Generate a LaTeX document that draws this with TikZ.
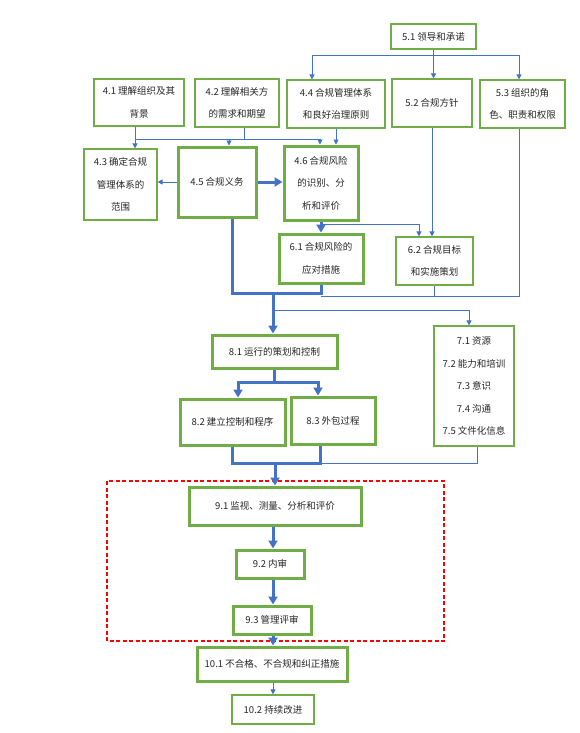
\documentclass[tikz,border=0pt]{standalone}
\usepackage{fontspec}
\newfontfamily\cjk{Noto Sans CJK SC}
\usetikzlibrary{arrows.meta}
\definecolor{gr}{HTML}{70AD47}
\definecolor{bl}{HTML}{4472C4}
\definecolor{dashred}{RGB}{255,0,0}
\definecolor{tx}{HTML}{262626}
\begin{document}
\begin{tikzpicture}[x=1pt,y=-1pt,
  thinbox/.style={draw=gr, line width=1.2pt, fill=white, inner sep=0pt, align=center,
    font=\cjk\fontsize{9.5}{22.5}\selectfont, text=tx},
  thickbox/.style={thinbox, line width=3pt},
  tl/.style={draw=bl, line width=0.9pt},
  tk/.style={draw=bl, line width=3pt},
  tla/.style={tl, -{Triangle[length=5pt,width=5pt]}},
  tka/.style={tk, -{Triangle[length=8pt,width=9pt]}},
  dbl/.style={tk, {Triangle[length=8pt,width=9pt]}-{Triangle[length=8pt,width=9pt]}},
  grp/.style={color=dashred, line width=1.2pt, dash pattern=on 4pt off 2.5pt}
]
\fill[white] (0,0) rectangle (579,733);
\useasboundingbox (0,0) rectangle (579,733);

\draw[grp] (107,481) rectangle (444,641);

% boxes
\node[thinbox, minimum width=85pt, minimum height=25pt] (n51) at (433.5,36.5) {5.1 领导和承诺};
\node[thinbox, minimum width=90pt, minimum height=47pt] (n41) at (139,102.5) {4.1 理解组织及其\\背景};
\node[thinbox, minimum width=84pt, minimum height=48pt] (n42) at (237,103) {4.2 理解相关方\\的需求和期望};
\node[thinbox, minimum width=98pt, minimum height=48pt] (n44) at (336,104) {4.4 合规管理体系\\和良好治理原则};
\node[thinbox, minimum width=80pt, minimum height=48pt] (n52) at (432,103) {5.2 合规方针};
\node[thinbox, minimum width=85pt, minimum height=48pt] (n53) at (522.5,104) {5.3 组织的角\\色、职责和权限};
\node[thinbox, minimum width=73pt, minimum height=71pt] (n43) at (120.5,184.5) {4.3 确定合规\\管理体系的\\范围};
\node[thickbox, minimum width=78pt, minimum height=70pt] (n45) at (217,182) {4.5 合规义务};
\node[thickbox, minimum width=74pt, minimum height=74pt] (n46) at (321,183) {4.6 合规风险\\的识别、分\\析和评价};
\node[thickbox, minimum width=84pt, minimum height=49pt] (n61) at (321,258.5) {6.1 合规风险的\\应对措施};
\node[thinbox, minimum width=77pt, minimum height=48pt] (n62) at (434.5,261) {6.2 合规目标\\和实施策划};
\node[thickbox, minimum width=125pt, minimum height=33pt] (n81) at (274.5,351.5) {8.1 运行的策划和控制};
\node[thinbox, minimum width=80pt, minimum height=120pt] (n71) at (474,386) {7.1 资源\\7.2 能力和培训\\7.3 意识\\7.4 沟通\\7.5 文件化信息};
\node[thickbox, minimum width=105pt, minimum height=46pt] (n82) at (232.5,422) {8.2 建立控制和程序};
\node[thickbox, minimum width=84pt, minimum height=47pt] (n83) at (333,420.5) {8.3 外包过程};
\node[thickbox, minimum width=172pt, minimum height=38pt] (n91) at (275,506) {9.1 监视、测量、分析和评价};
\node[thickbox, minimum width=68pt, minimum height=28pt] (n92) at (270,564) {9.2 内审};
\node[thickbox, minimum width=78pt, minimum height=28pt] (n93) at (272,620) {9.3 管理评审};
\node[thickbox, minimum width=150pt, minimum height=34pt] (n101) at (272,664) {10.1 不合格、不合规和纠正措施};
\node[thinbox, minimum width=82pt, minimum height=29pt] (n102) at (273,709.5) {10.2 持续改进};

% 5.1 distribution
\coordinate (a1) at (312,55);
\coordinate (a2) at (519,55);
\draw[tl] (a1) -- (a2);
\draw[tla] (n51.south) -- (n51.south |- n52.north);
\draw[tla] (a1) -- (a1 |- n44.north);
\draw[tla] (a2) -- (a2 |- n53.north);

% 4.1 / 4.2 distribution
\coordinate (b1) at (135,139);
\coordinate (b2) at (320,139);
\coordinate (b3) at (229,139);
\coordinate (b4) at (244,139);
\draw[tl] (b1 |- n41.south) -- (b1) -- (b2);
\draw[tl] (b4 |- n42.south) -- (b4);
\draw[tla] (b1) -- (b1 |- n43.north);
\draw[tla] (b3) -- (b3 |- n45.north);
\draw[tla] (b2) -- (b2 |- n46.north);
\draw[tla] (n44.south) -- (n44.south |- n46.north);

\draw[tla] (n45.west) -- (n45.west -| n43.east);
\draw[tka] (n45.east) -- (n45.east -| n46.west);
\draw[tka] (n46.south) -- (n46.south |- n61.north);
\coordinate (c0) at (321,224);
\coordinate (c1) at (419,224);
\draw[tla] (c0) -- (c1) -- (c1 |- n62.north);
\draw[tla] (n52.south) -- (n52.south |- n62.north);

% merge above 8.1
\coordinate (d1) at (232,293);
\coordinate (d2) at (321,293);
\coordinate (d3) at (273,293);
\coordinate (e1) at (321,296);
\coordinate (e2) at (519,296);
\draw[tl] (e1) -- (e2) -- (e2 |- n53.south);
\draw[tl] (n62.south) -- (n62.south |- e1);
\draw[tk] (d1 |- n45.south) -- (d1) -- (d2) -- (d2 |- n61.south);
\draw[tka] (d3) -- (d3 |- n81.north);
\coordinate (f1) at (273,310);
\coordinate (f2) at (469,310);
\draw[tla] (f1) -- (f2) -- (f2 |- n71.north);

% 8.1 to 8.2 / 8.3
\coordinate (g1) at (238,382);
\coordinate (g2) at (318,382);
\draw[tk] (n81.south) -- (n81.south |- g1);
\draw[dbl] (g1 |- n82.north) -- (g1) -- (g2) -- (g2 |- n83.north);

% merge to 9.1
\coordinate (h1) at (232,463);
\coordinate (h2) at (320,463);
\coordinate (h3) at (275,463);
\coordinate (h4) at (477,463);
\draw[tl] (h2) -- (h4) -- (h4 |- n71.south);
\draw[tk] (h1 |- n82.south) -- (h1) -- (h2) -- (h2 |- n83.south);
\draw[tka] (h3) -- (h3 |- n91.north);

% chain 9 - 10
\coordinate (k) at (273,0);
\draw[tka] (n91.south -| k) -- (n92.north -| k);
\draw[tka] (n92.south -| k) -- (n93.north -| k);
\draw[tka] (n93.south -| k) -- (n101.north -| k);
\draw[tla] (n101.south -| k) -- (n102.north -| k);
\end{tikzpicture}
\end{document}
